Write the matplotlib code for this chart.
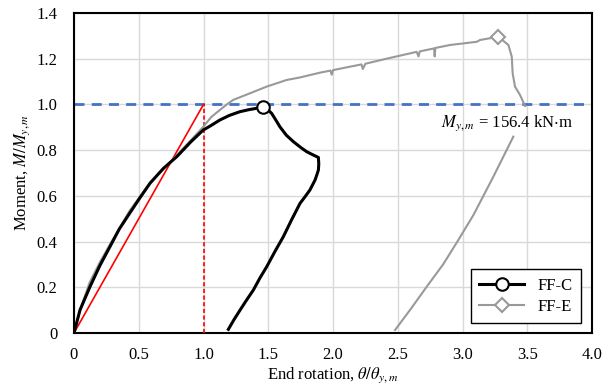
import numpy as np
import matplotlib
matplotlib.use("Agg")
import matplotlib.pyplot as plt

plt.rcParams["font.family"] = ["Liberation Serif", "DejaVu Serif"]
plt.rcParams["mathtext.fontset"] = "stix"
plt.rcParams["font.size"] = 12

# FF-C : loading branch, post-peak drop, then unloading
ffc_x = [0, 0.046, 0.124, 0.20, 0.278, 0.35, 0.43, 0.51, 0.587, 0.69, 0.793, 0.90, 0.998,
         1.05, 1.127, 1.2, 1.28, 1.35, 1.41, 1.462, 1.49, 1.526, 1.56, 1.59, 1.64, 1.694,
         1.75, 1.797, 1.85, 1.887, 1.89, 1.887, 1.874, 1.861, 1.822, 1.785, 1.745, 1.68,
         1.616, 1.55, 1.488, 1.435, 1.385, 1.33, 1.282, 1.235, 1.192]
ffc_y = [0, 0.10, 0.203, 0.295, 0.378, 0.455, 0.524, 0.592, 0.655, 0.72, 0.771, 0.835, 0.888,
         0.905, 0.932, 0.952, 0.968, 0.977, 0.983, 0.99, 0.98, 0.961, 0.93, 0.902, 0.865, 0.837,
         0.812, 0.793, 0.778, 0.768, 0.74, 0.713, 0.69, 0.669, 0.626, 0.597, 0.567, 0.495,
         0.421, 0.355, 0.29, 0.24, 0.188, 0.142, 0.10, 0.058, 0.016]
ffc_peak = 19

# FF-E : loading branch up to peak, drop, gap, then unloading
ffe_x = [0, 0.05, 0.12, 0.20, 0.28, 0.43, 0.59, 0.79, 0.998, 1.06, 1.127, 1.18, 1.23, 1.36,
         1.488, 1.642, 1.745, 1.9, 1.98, 1.99, 2.0, 2.13, 2.22, 2.23, 2.25, 2.39, 2.646, 2.66,
         2.67, 2.78, 2.785, 2.79, 2.903, 3.11, 3.135, 3.277, 3.354, 3.38, 3.387, 3.405,
         3.444, 3.483, np.nan, 3.392, 3.238, 3.083, 2.96, 2.85, 2.724, 2.6, 2.479]
ffe_y = [0, 0.105, 0.22, 0.31, 0.39, 0.535, 0.66, 0.775, 0.902, 0.945, 0.976, 1.0, 1.02, 1.049,
         1.078, 1.107, 1.118, 1.139, 1.148, 1.13, 1.15, 1.165, 1.175, 1.155, 1.178, 1.197, 1.23,
         1.21, 1.232, 1.245, 1.21, 1.247, 1.26, 1.274, 1.282, 1.296, 1.26, 1.209, 1.136, 1.078,
         1.041, 0.993, np.nan, 0.859, 0.684, 0.515, 0.40, 0.30, 0.203, 0.105, 0.013]
ffe_peak = 35

theta_y = [0, 1.0]
my_ratio = [0, 1.0]

fig = plt.figure(figsize=(6.11, 3.88), dpi=100)
ax = fig.add_axes([0.1211, 0.1418, 0.8479, 0.8247])

ax.grid(True, color="#d9d9d9", lw=1)
ax.set_axisbelow(True)

ax.axhline(1.0, color="#4472C4", lw=2, dashes=(3.6, 2.6), zorder=2)
ax.plot(theta_y, my_ratio, color="red", lw=1.2, zorder=3)
ax.plot([theta_y[1], theta_y[1]], [0, my_ratio[1]], color="red", lw=1.2,
        dashes=(2.5, 1.5), zorder=3)

ax.plot(ffe_x, ffe_y, color="#999999", lw=1.5, marker="D", markevery=[ffe_peak],
        markersize=7, markerfacecolor="white", markeredgecolor="#999999",
        markeredgewidth=1.5, label="FF-E", zorder=4)
ax.plot(ffc_x, ffc_y, color="black", lw=2.2, marker="o", markevery=[ffc_peak],
        markersize=9, markerfacecolor="white", markeredgecolor="black",
        markeredgewidth=1.5, label="FF-C", zorder=5)

ax.text(2.83, 0.92, r"$M_{y,m}$ = 156.4 kN$\cdot$m", va="center", ha="left", fontsize=12)

ax.set_xlim(0, 4.0)
ax.set_ylim(0, 1.4)
ax.set_xticks(np.arange(0, 4.01, 0.5))
ax.set_xticklabels(["0"] + ["%.1f" % v for v in np.arange(0.5, 4.01, 0.5)])
ax.set_yticks(np.arange(0, 1.41, 0.2))
ax.set_yticklabels(["0"] + ["%.1f" % v for v in np.arange(0.2, 1.41, 0.2)])
ax.tick_params(axis="x", length=0, pad=10, labelsize=12)
ax.tick_params(axis="y", length=0, pad=12, labelsize=12)
for s in ax.spines.values():
    s.set_linewidth(1.5)
    s.set_color("black")

ax.set_xlabel(r"End rotation, $\theta/\theta_{y,m}$", fontsize=12, labelpad=2)
ax.set_ylabel(r"Moment, $M/M_{y,m}$", fontsize=12, labelpad=3)

h, l = ax.get_legend_handles_labels()
leg = ax.legend(h[::-1], l[::-1], loc="lower right", bbox_to_anchor=(0.979, 0.031),
                borderaxespad=0, fancybox=False, edgecolor="black", framealpha=1,
                handlelength=2.7, fontsize=12, borderpad=0.5, labelspacing=0.3)
leg.get_frame().set_linewidth(1.0)

fig.savefig("out.png", dpi=100)
